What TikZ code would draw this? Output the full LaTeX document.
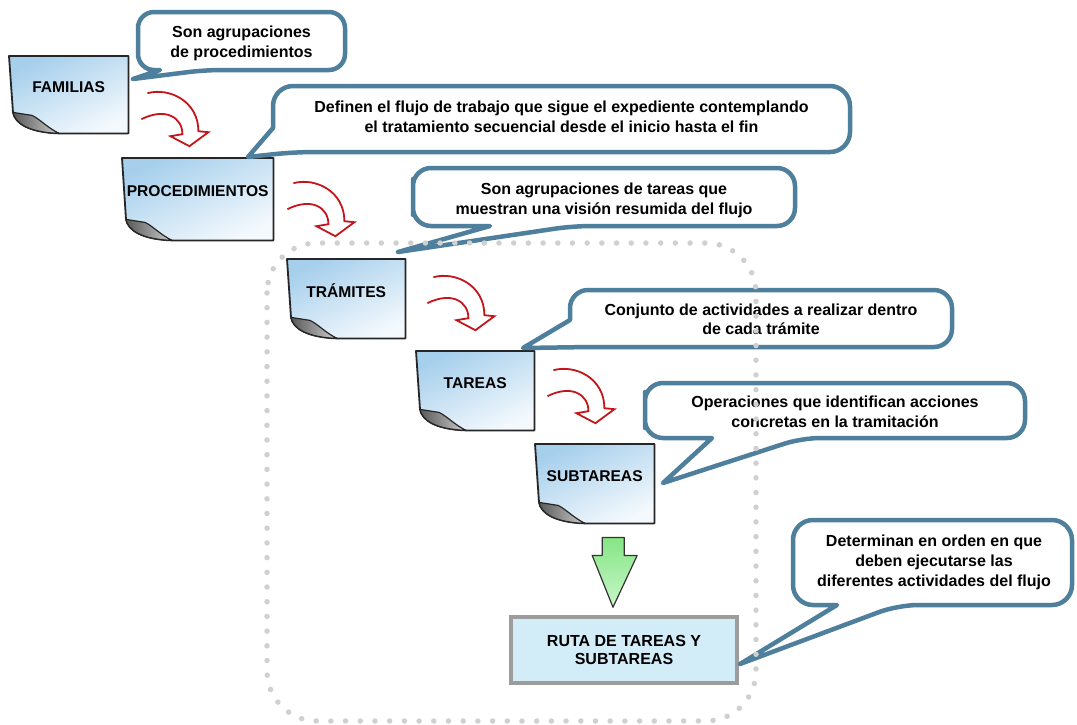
\documentclass[tikz,border=0pt]{standalone}
\usepackage{fontspec}
\setmainfont{Liberation Sans}
\usetikzlibrary{calc}
\definecolor{cblue}{HTML}{4E7F9C}
\definecolor{ared}{HTML}{C3161C}
\definecolor{dotgray}{HTML}{D0D0D0}
\definecolor{noteblue}{HTML}{A6CFEC}
\definecolor{notewhite}{HTML}{F4F9FD}
\definecolor{rutafill}{HTML}{D2ECF8}
\definecolor{rutaline}{HTML}{9C9C9C}
\definecolor{agreen}{HTML}{86E586}
\definecolor{agreenl}{HTML}{C8F7C8}
\newcommand\drawnote[2]{%
  \shade[top color=noteblue, bottom color=notewhite, shading angle=25]
    (#1.north west) -- (#1.north east) -- (#1.south east) -- ($(#1.south west)+(50,0)$)
    .. controls ($(#1.south west)+(20,-1)$) and ($(#1.south west)+(6,-10)$) .. ($(#1.south west)+(4,-21)$) -- cycle;
  \draw[noteline]
    (#1.north west) -- (#1.north east) -- (#1.south east) -- ($(#1.south west)+(50,0)$)
    .. controls ($(#1.south west)+(20,-1)$) and ($(#1.south west)+(6,-10)$) .. ($(#1.south west)+(4,-21)$) -- cycle;
  \shade[left color=black!65, right color=black!20]
    ($(#1.south west)+(4,-21)$) .. controls ($(#1.south west)+(6,-10)$) and ($(#1.south west)+(20,-1)$) .. ($(#1.south west)+(50,0)$)
    .. controls ($(#1.south west)+(38,-6)$) and ($(#1.south west)+(30,-15)$) .. ($(#1.south west)+(23,-18)$) -- cycle;
  \draw[noteline, line width=1.2pt]
    ($(#1.south west)+(4,-21)$) .. controls ($(#1.south west)+(6,-10)$) and ($(#1.south west)+(20,-1)$) .. ($(#1.south west)+(50,0)$)
    .. controls ($(#1.south west)+(38,-6)$) and ($(#1.south west)+(30,-15)$) .. ($(#1.south west)+(23,-18)$) -- cycle;
  \node[notelabel] (#1-t) at ($(#1.center)+(0,-8)$) {#2};
}
\begin{document}
\begin{tikzpicture}[x=1pt, y=-1pt,
  notebase/.style={inner sep=0pt, draw=none, anchor=north west},
  noteline/.style={draw=black!85, line width=1.8pt, line join=round},
  notelabel/.style={font=\bfseries\fontsize{15.6}{18}\selectfont, inner sep=0pt},
  cline/.style={draw=cblue, fill=white, line width=4.5pt, line join=round},
  ctext/.style={font=\bfseries\fontsize{16}{20}\selectfont, align=center, inner sep=0pt},
  redarrow/.pic={
    \filldraw[draw=ared, fill=white, line width=1.8pt, line join=miter]
      (0,0) .. controls (22,-6) and (51,8) .. (51,38) -- (61,39) -- (42,53) -- (23,43) -- (35,41)
      .. controls (35,24) and (18,14) .. (-6,26);
  },
  dots/.style={draw=dotgray, line width=5.5pt, line cap=round, dash pattern=on 0pt off 14.7pt}
]
\useasboundingbox (0,0) rectangle (1077,724);
\fill[white] (0,0) rectangle (1077,724);

% notes
\node[notebase, minimum width=119pt, minimum height=77pt] (fam) at (9,56) {};
\node[notebase, minimum width=151pt, minimum height=82pt] (proc) at (122,158) {};
\node[notebase, minimum width=118pt, minimum height=79pt] (tram) at (287,259) {};
\node[notebase, minimum width=118pt, minimum height=79pt] (tar) at (416,351) {};
\node[notebase, minimum width=119pt, minimum height=79pt] (sub) at (535,444) {};
\drawnote{fam}{FAMILIAS}
\drawnote{proc}{PROCEDIMIENTOS}
\drawnote{tram}{TRÁMITES}
\drawnote{tar}{TAREAS}
\drawnote{sub}{SUBTAREAS}

% red curved arrows
\pic at ($(fam.east)+(19,-1.5)$) {redarrow};
\pic at ($(proc.east)+(20,-16)$) {redarrow};
\pic at ($(tram.east)+(28,-21.5)$) {redarrow};
\pic at ($(tar.east)+(19,-20.5)$) {redarrow};

% ruta box
\node[draw=rutaline, fill=rutafill, line width=3.5pt, minimum width=226pt, minimum height=66pt,
      font=\bfseries\fontsize{16}{18}\selectfont, align=center, inner sep=0pt, text depth=0pt]
      (ruta) at (624,650) {RUTA DE TAREAS Y\\SUBTAREAS};

% green arrow
\coordinate (g1) at ($(sub.south)+(18.5,14)$);
\coordinate (g2) at ($(ruta.north)+(-11,-8)$);
\shade[top color=agreen, bottom color=agreenl]
  ($(g1)+(-11,0)$) -- ($(g1)+(11,0)$) -- ($(g1)+(11,18)$) -- ($(g1)+(24,18)$) -- (g2)
  -- ($(g1)+(-21,18)$) -- ($(g1)+(-11,18)$) -- cycle;
\draw[black!80, line width=1.2pt, line join=round]
  ($(g1)+(-11,0)$) -- ($(g1)+(11,0)$) -- ($(g1)+(11,18)$) -- ($(g1)+(24,18)$) -- (g2)
  -- ($(g1)+(-21,18)$) -- ($(g1)+(-11,18)$) -- cycle;

% callouts
\path[cline] (138,41) [rounded corners=16pt] -- (138,12) -- (345,12) -- (345,70) -- (205,70)
  [sharp corners] -- (133,79) -- (160,70) [rounded corners=16pt] -- (138,70) -- cycle;
\node[ctext] (c1) at (241.5,43) {Son agrupaciones\\de procedimientos};

\path[cline] (560,86) [rounded corners=20pt] -- (850,86) -- (850,152) -- (294,152)
  [sharp corners] -- (248,157) -- (273,128) [rounded corners=20pt] -- (273,86) -- cycle;
\node[ctext] (c2) at (561.5,117) {Definen el flujo de trabajo que sigue el expediente contemplando\\el tratamiento secuencial desde el inicio hasta el fin};

\path[cline] (413,197) [rounded corners=18pt] -- (413,168) -- (795,168) -- (795,226) -- (573,226)
  [sharp corners] -- (398,252) -- (490,226) [rounded corners=18pt] -- (413,226) -- cycle;
\node[ctext] (c3) at (604,200) {Son agrupaciones de tareas que\\muestran una visión resumida del flujo};

\path[cline] (761,290) [rounded corners=18pt] -- (952,290) -- (952,347) -- (590,347)
  [sharp corners] -- (523,348) -- (570,320) [rounded corners=18pt] -- (570,290) -- cycle;
\node[ctext, font=\bfseries\fontsize{16}{19}\selectfont] (c4) at (761,319) {Conjunto de actividades a realizar dentro\\de cada trámite};

\path[cline] (645,410) [rounded corners=18pt] -- (645,383) -- (1025,383) -- (1025,438) -- (802,438)
  [sharp corners] -- (663,483) -- (712,438) [rounded corners=18pt] -- (645,438) -- cycle;
\node[ctext] (c5) at (835,412) {Operaciones que identifican acciones\\concretas en la tramitación};

\path[cline] (793,562) [rounded corners=20pt] -- (793,520) -- (1072,520) -- (1072,605) -- (898,605)
  [sharp corners] -- (740,664) -- (837,605) [rounded corners=20pt] -- (793,605) -- cycle;
\node[ctext] (c6) at (934,562) {Determinan en orden en que\\deben ejecutarse las\\diferentes actividades del flujo};

% dotted frame
\draw[dots, rounded corners=50pt] (267,243) rectangle (756,721);
\end{tikzpicture}
\end{document}
